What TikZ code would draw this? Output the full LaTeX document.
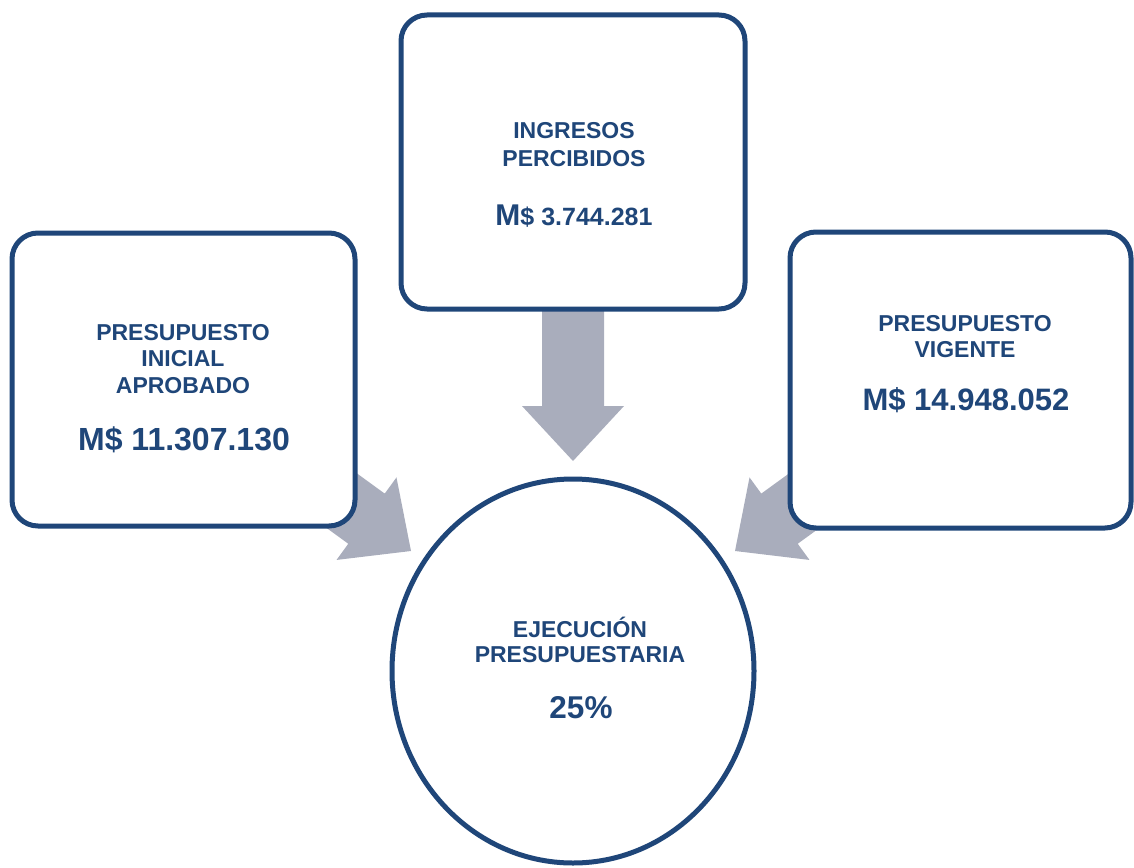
\documentclass[tikz,border=0pt]{standalone}
\usepackage{fontspec}
\setmainfont{Liberation Sans}
\usetikzlibrary{shapes.geometric}
\begin{document}
\definecolor{navy}{RGB}{31,70,121}
\definecolor{arrowgray}{RGB}{169,173,188}
\begin{tikzpicture}[x=1pt,y=-1pt,
  panel/.style={draw=navy,line width=5pt,fill=white,rounded corners=26pt,inner sep=0pt},
  goal/.style={draw=navy,line width=5pt,fill=white,ellipse,inner sep=0pt},
  head/.style={anchor=base,text=navy,font=\bfseries\fontsize{23}{27}\selectfont,inner sep=0pt},
  amount/.style={anchor=base,text=navy,font=\bfseries,inner sep=0pt},
  fatarrow/.pic={\fill[arrowgray] (0,0) -- (-55,51) -- (-55,31) -- (-180,31)
     -- (-180,-31) -- (-55,-31) -- (-55,-51) -- cycle;}]
\useasboundingbox (0,0) rectangle (1134,867);
% broad arrows pointing to the result (drawn first, tails hidden by the panels)
\pic[rotate=-36] at (411,551) {fatarrow};
\pic[rotate=-144] at (735,551) {fatarrow};
\pic[rotate=-90] at (573,461) {fatarrow};
% panels
\node[panel,minimum width=343pt,minimum height=293pt] (inicial) at (183.5,379.5) {};
\node[panel,minimum width=344pt,minimum height=294pt] (ingresos) at (573,162) {};
\node[panel,minimum width=341pt,minimum height=296pt] (vigente) at (960.5,380) {};
\node[goal,minimum width=362pt,minimum height=384pt] (ejec) at (573,671) {};
% left panel text
\node[head] (ini1) at (183,340) {PRESUPUESTO};
\node[head] (ini2) at (183,366.7) {INICIAL};
\node[head] (ini3) at (183,393) {APROBADO};
\node[amount,font=\bfseries\fontsize{32}{36}\selectfont] (ini4) at (184,450) {M\$ 11.307.130};
% top panel text
\node[head] (ing1) at (574,138) {INGRESOS};
\node[head] (ing2) at (574,166.7) {PERCIBIDOS};
\node[amount] (ing3) at (574,225) {\fontsize{30}{34}\selectfont M\fontsize{25}{30}\selectfont\$ 3.744.281};
% right panel text
\node[head] (vig1) at (965,331) {PRESUPUESTO};
\node[head] (vig2) at (965,357) {VIGENTE};
\node[amount,font=\bfseries\fontsize{31}{35}\selectfont] (vig3) at (966,410) {M\$ 14.948.052};
% result text
\node[head] (eje1) at (580,637) {EJECUCIÓN};
\node[head] (eje2) at (580,662) {PRESUPUESTARIA};
\node[amount,font=\bfseries\fontsize{31.5}{35}\selectfont] (eje3) at (581,718) {25\%};
\end{tikzpicture}
\end{document}
